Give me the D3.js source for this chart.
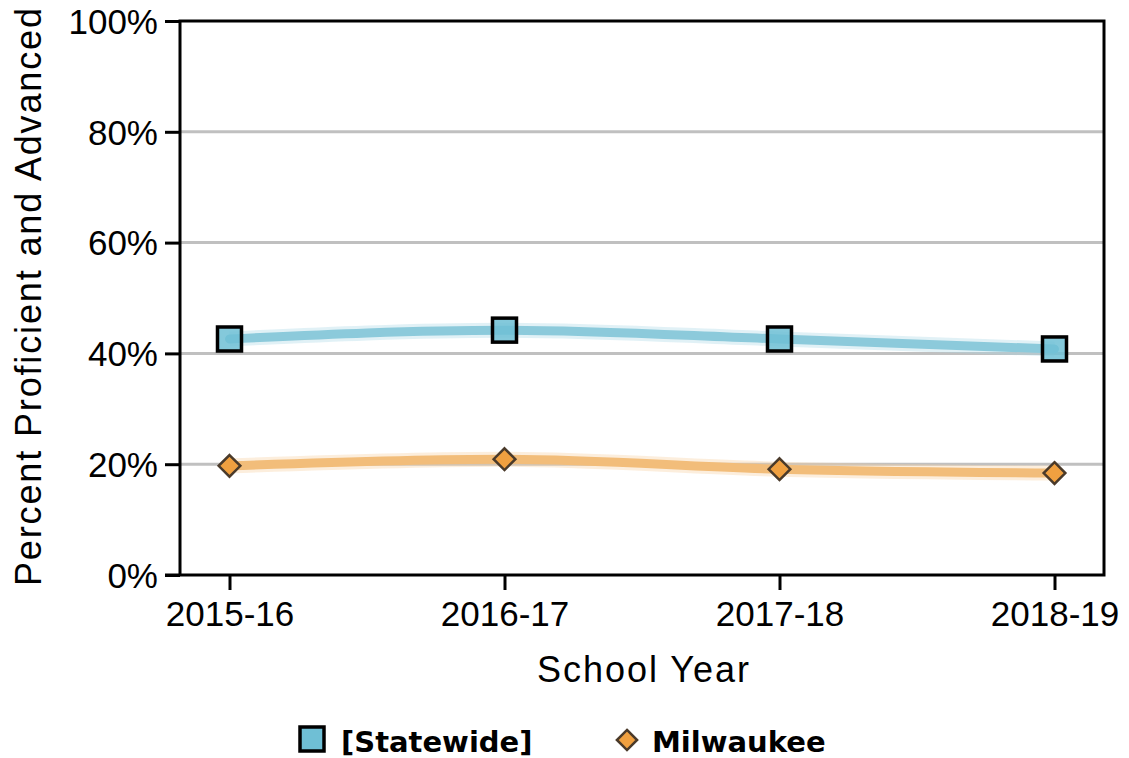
<!DOCTYPE html>
<html><head><meta charset="utf-8">
<script src="https://cdn.jsdelivr.net/npm/d3@7"></script>
<style>body{margin:0;background:#fff}svg{display:block}</style>
</head><body>
<svg id="c" width="1129" height="758"></svg>
<script>
const years = ["2015-16","2016-17","2017-18","2018-19"];
const statewide = [42.6, 44.2, 42.6, 40.8];
const milwaukee = [19.7, 20.9, 19.1, 18.4];
const yTicks = [0,20,40,60,80,100];
const seriesNames = ["[Statewide]","Milwaukee"];

const svg = d3.select("#c");
const L=180, R=1104, T=21, B=575;
const x = d3.scalePoint().domain(years).range([L,R]).padding(0.18);
const y = d3.scaleLinear().domain([0,100]).range([B,T]);
const tickFont = "Liberation Sans, Arial, sans-serif";

// gridlines
svg.append("g").selectAll("line").data(yTicks.filter(d=>d>0&&d<100)).join("line")
  .attr("x1",L).attr("x2",R).attr("y1",d=>y(d)).attr("y2",d=>y(d))
  .attr("stroke","#c0c0c0").attr("stroke-width",3);

// axes
const yAxis = d3.axisLeft(y).tickValues(yTicks).tickFormat(d=>d+"%").tickSize(15).tickSizeOuter(0);
const gy = svg.append("g").attr("transform",`translate(${L},0)`).call(yAxis);
gy.select(".domain").remove();
gy.selectAll(".tick line").attr("stroke","#000").attr("stroke-width",3);
gy.selectAll(".tick text").attr("font-family",tickFont).attr("font-size",35).attr("fill","#000").attr("x",-22).attr("dy","0.35em");

const xAxis = d3.axisBottom(x).tickSize(15).tickSizeOuter(0);
const gx = svg.append("g").attr("transform",`translate(0,${B})`).call(xAxis);
gx.select(".domain").remove();
gx.selectAll(".tick line").attr("stroke","#000").attr("stroke-width",3);
gx.selectAll(".tick text").attr("font-family",tickFont).attr("font-size",35).attr("fill","#000").attr("y",26).attr("dy","0.71em");

// frame
svg.append("rect").attr("x",L).attr("y",T).attr("width",R-L).attr("height",B-T)
  .attr("fill","none").attr("stroke","#000").attr("stroke-width",3);
svg.append("line").attr("x1",L-15).attr("x2",L).attr("y1",B).attr("y2",B).attr("stroke","#000").attr("stroke-width",3);

// lines
const line = d3.line().x((d,i)=>x(years[i])).y(d=>y(d)).curve(d3.curveMonotoneX);
function drawSeries(vals, halo, main){
  svg.append("path").attr("d",line(vals)).attr("fill","none").attr("stroke",halo).attr("stroke-width",15).attr("stroke-opacity",0.35);
  svg.append("path").attr("d",line(vals)).attr("fill","none").attr("stroke",main).attr("stroke-width",9).attr("stroke-linecap","round");
}
drawSeries(statewide,"#a8d8e6","#8ccadb");
drawSeries(milwaukee,"#f6cf9f","#f2bd7a");

// markers
svg.append("g").selectAll("rect").data(statewide).join("rect")
  .attr("x",(d,i)=>x(years[i])-12).attr("y",d=>y(d)-12).attr("width",24).attr("height",24)
  .attr("fill","#6fbfd5").attr("fill-opacity",0.85).attr("stroke","#000").attr("stroke-width",3.5);
const dia = d3.symbol().type(d3.symbolDiamond2).size(300);
svg.append("g").selectAll("path").data(milwaukee).join("path")
  .attr("d",dia).attr("transform",(d,i)=>`translate(${x(years[i])},${y(d)})`)
  .attr("fill","#f0a040").attr("stroke","#4a3a2a").attr("stroke-width",2.5);

// axis titles
svg.append("text").attr("transform",`translate(41,297) rotate(-90)`).attr("text-anchor","middle")
  .attr("font-family",tickFont).attr("font-size",36).attr("fill","#000")
  .attr("textLength",578).attr("lengthAdjust","spacing")
  .text("Percent Proficient and Advanced");
svg.append("text").attr("x",643).attr("y",682).attr("text-anchor","middle")
  .attr("font-family",tickFont).attr("font-size",36).attr("fill","#000")
  .attr("textLength",212).attr("lengthAdjust","spacing")
  .text("School Year");

// legend
const lg = svg.append("g");
lg.append("rect").attr("x",300).attr("y",727).attr("width",24).attr("height",24)
  .attr("fill","#6fbfd5").attr("stroke","#000").attr("stroke-width",3.5);
lg.append("text").attr("x",341).attr("y",752).attr("font-family","DejaVu Sans, Verdana, sans-serif").attr("font-weight","bold").attr("font-size",29).attr("fill","#000").text(seriesNames[0]);
lg.append("path").attr("d",d3.symbol().type(d3.symbolDiamond2).size(260)).attr("transform","translate(627,740)")
  .attr("fill","#f0a040").attr("stroke","#4a3a2a").attr("stroke-width",2.5);
lg.append("text").attr("x",652).attr("y",752).attr("font-family","DejaVu Sans, Verdana, sans-serif").attr("font-weight","bold").attr("font-size",29).attr("fill","#000").text(seriesNames[1]);
</script>
</body></html>
